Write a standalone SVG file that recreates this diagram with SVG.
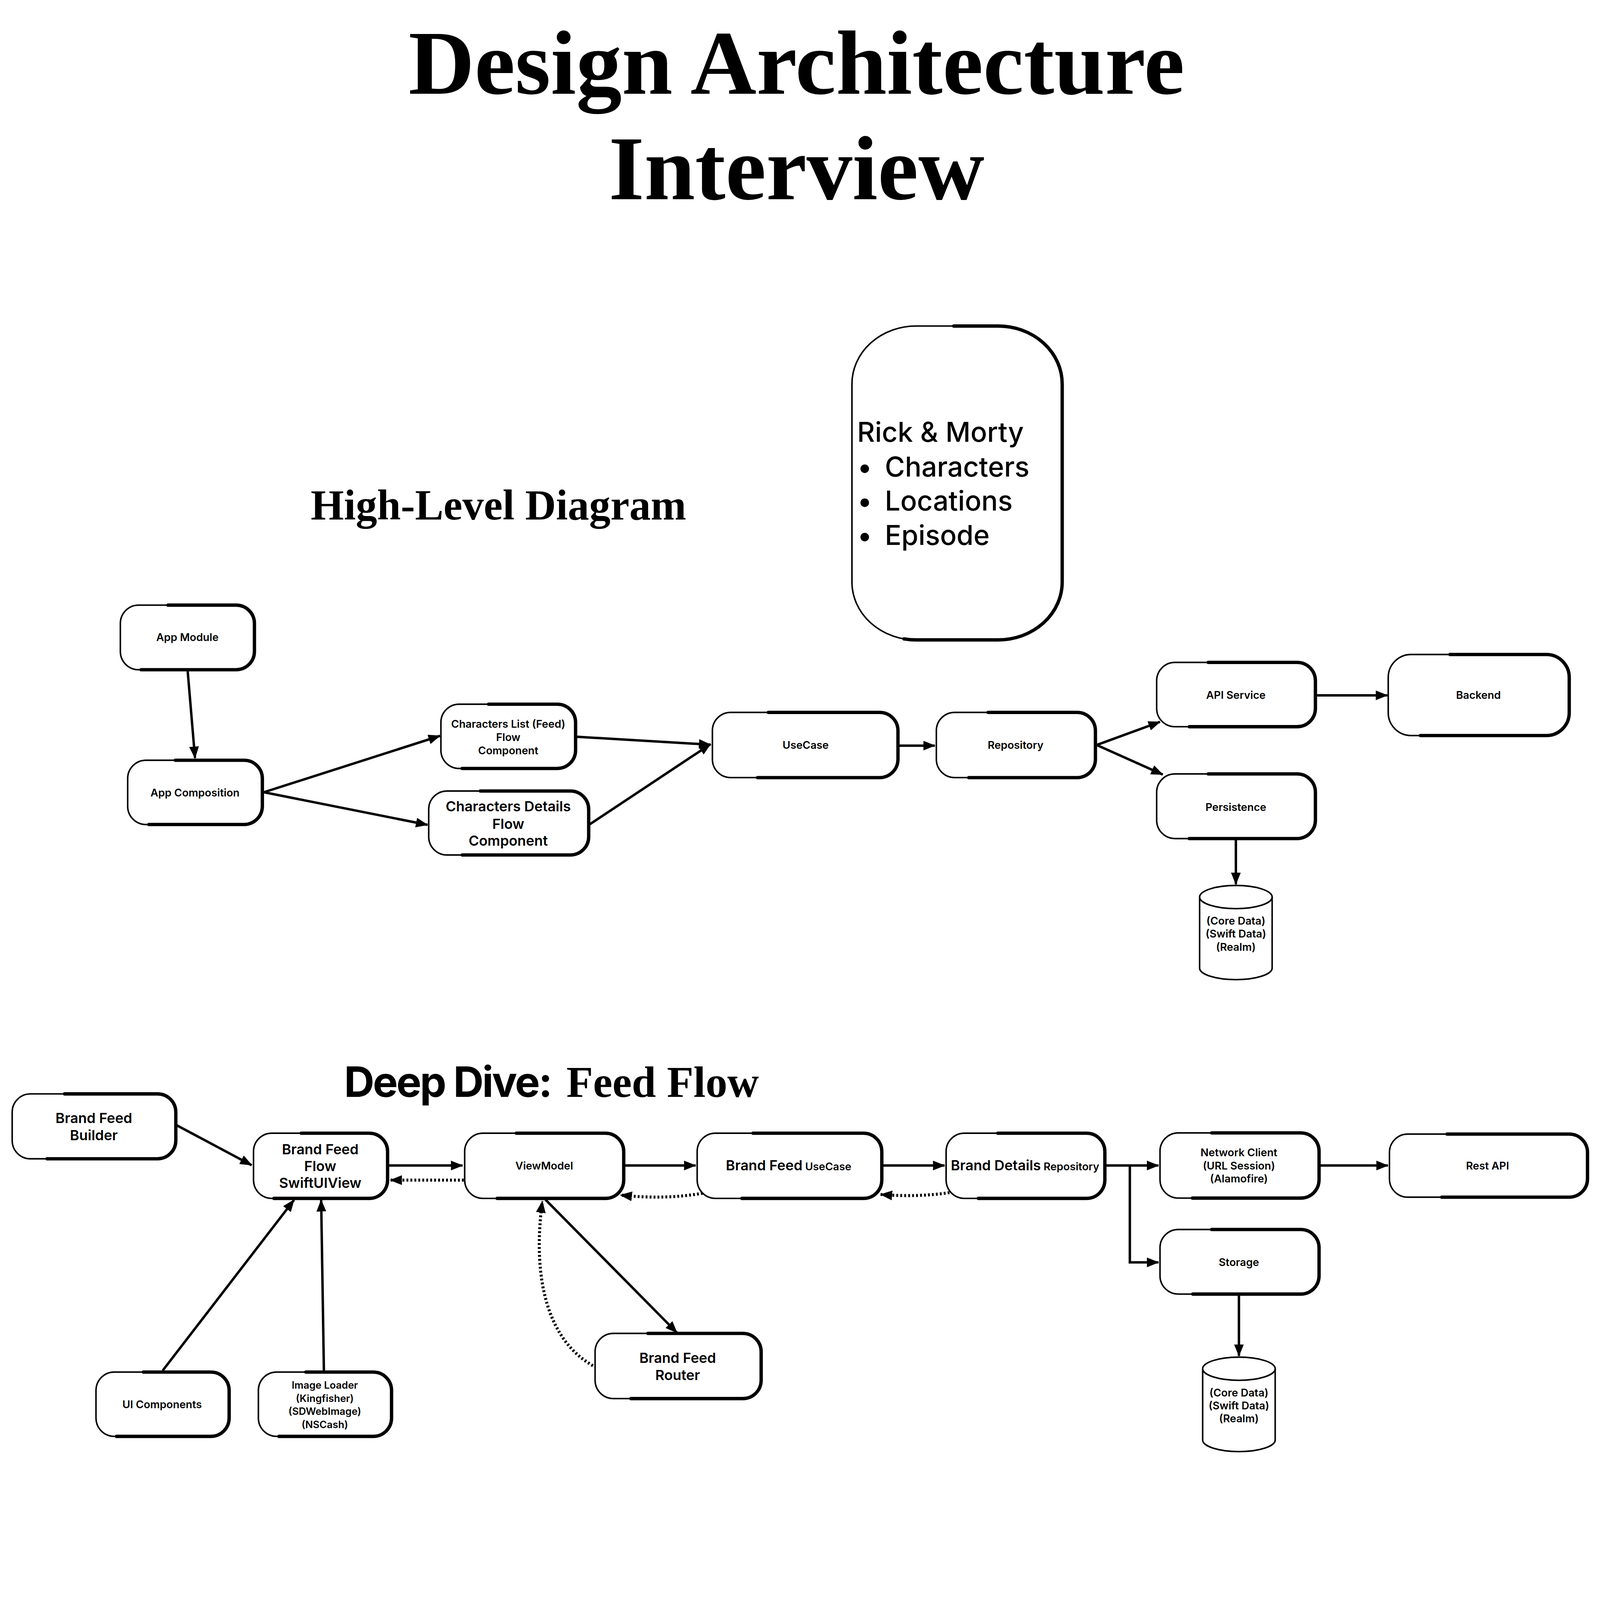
<svg xmlns="http://www.w3.org/2000/svg" width="5251" height="4806" viewBox="0 0 5251 4806" preserveAspectRatio="xMinYMin meet">
<style>
svg{max-width:100vw;max-height:100vh}
.bg{fill:#fff}
.box{fill:#fff;stroke:#000;stroke-width:5}
.rim{fill:none;stroke:#000;stroke-width:11;stroke-linecap:round;stroke-dasharray:68 32;stroke-dashoffset:-8}
.rimr{fill:none;stroke:#000;stroke-width:11;stroke-linecap:round;stroke-dasharray:56 44;stroke-dashoffset:-4}
.edge{fill:none;stroke:#000;stroke-width:8}
.dot{stroke-dasharray:6 7;stroke-width:10}
.t{font-family:Inter,"Noto Sans","Liberation Sans",sans-serif;font-weight:600;text-anchor:middle;fill:#000}
.s{font-size:35px}
.m{font-size:46px}
.serif{font-family:"Liberation Serif","Times New Roman",serif;font-weight:bold;fill:#000}
.rm{font-family:Inter,"Noto Sans","Liberation Sans",sans-serif;font-weight:500;font-size:90px;fill:#000}
</style>
<defs>
<marker id="arr" markerUnits="userSpaceOnUse" viewBox="0 0 40 32" markerWidth="40" markerHeight="32" refX="38" refY="16" orient="auto">
<path d="M0,0 L40,16 L0,32 Z" fill="#000"/>
</marker>
</defs>
<rect class="bg" x="0" y="0" width="5251" height="4806"/>

<g id="titles">
<text class="serif" x="2614" y="308" font-size="300" text-anchor="middle">Design Architecture</text>
<text class="serif" x="2614" y="654" font-size="300" text-anchor="middle">Interview</text>
<text class="serif" x="1636" y="1705" font-size="140" text-anchor="middle">High-Level Diagram</text>
<text x="1129" y="3600"><tspan font-family="Inter, 'Noto Sans', 'Liberation Sans', sans-serif" font-weight="700" font-size="138" letter-spacing="-5">Deep Dive:</tspan><tspan x="1859" class="serif" font-size="143">Feed Flow</tspan></text>
</g>

<g id="rick-morty">
<rect class="box" x="2796" y="1070" width="690" height="1030" rx="210" ry="190"/>
<rect class="rimr" x="2796" y="1070" width="690" height="1030" rx="210" ry="190" pathLength="100"/>
<text class="rm" x="2813" y="1450">Rick &amp; Morty</text>
<text class="rm" x="2814" y="1564">•</text><text class="rm" x="2904" y="1564">Characters</text>
<text class="rm" x="2814" y="1676">•</text><text class="rm" x="2904" y="1676">Locations</text>
<text class="rm" x="2814" y="1788">•</text><text class="rm" x="2904" y="1788">Episode</text>
</g>

<g id="connectors">
<path class="edge" d="M616,2203 L640,2488" marker-end="url(#arr)"/>
<path class="edge" d="M866,2600 L1444,2415" marker-end="url(#arr)"/>
<path class="edge" d="M866,2600 L1403,2707" marker-end="url(#arr)"/>
<path class="edge" d="M1893,2418 L2332,2444" marker-end="url(#arr)"/>
<path class="edge" d="M1936,2705 L2332,2442" marker-end="url(#arr)"/>
<path class="edge" d="M2950,2447 L3068,2447" marker-end="url(#arr)"/>
<path class="edge" d="M3599,2445 L3807,2369" marker-end="url(#arr)"/>
<path class="edge" d="M3599,2445 L3816,2542" marker-end="url(#arr)"/>
<path class="edge" d="M4322,2282 L4553,2282" marker-end="url(#arr)"/>
<path class="edge" d="M4056,2755 L4056,2902" marker-end="url(#arr)"/>

<path class="edge" d="M580,3693 L826,3824" marker-end="url(#arr)"/>
<path class="edge" d="M1277,3825 L1518,3825" marker-end="url(#arr)"/>
<path class="edge dot" d="M1522,3873 L1281,3873" marker-end="url(#arr)"/>
<path class="edge" d="M2051,3825 L2283,3825" marker-end="url(#arr)"/>
<path class="edge dot" d="M2306,3916 Q2180,3938 2036,3922" marker-end="url(#arr)"/>
<path class="edge" d="M2899,3825 L3100,3825" marker-end="url(#arr)"/>
<path class="edge dot" d="M3116,3914 Q3010,3930 2890,3920" marker-end="url(#arr)"/>
<path class="edge" d="M3627,3825 L3802,3825" marker-end="url(#arr)"/>
<path class="edge" d="M3708,3825 L3708,4143 L3802,4143" marker-end="url(#arr)"/>
<path class="edge" d="M4331,3825 L4555,3825" marker-end="url(#arr)"/>
<path class="edge" d="M4066,4251 L4066,4450" marker-end="url(#arr)"/>
<path class="edge" d="M534,4498 L965,3938" marker-end="url(#arr)"/>
<path class="edge" d="M1063,4498 L1054,3938" marker-end="url(#arr)"/>
<path class="edge" d="M1790,3937 L2222,4374" marker-end="url(#arr)"/>
<path class="edge dot" d="M1946,4482 C1800,4400 1745,4200 1780,3942" marker-end="url(#arr)"/>
</g>

<g id="app-module"><rect class="box" x="395" y="1986" width="440" height="212" rx="60"/><rect class="rim" x="395" y="1986" width="440" height="212" rx="60" pathLength="100"/>
<text class="t s" x="615" y="2104">App Module</text></g>
<g id="app-composition"><rect class="box" x="419" y="2495" width="442" height="211" rx="60"/><rect class="rim" x="419" y="2495" width="442" height="211" rx="60" pathLength="100"/>
<text class="t s" x="640" y="2614">App Composition</text></g>
<g id="characters-list"><rect class="box" x="1447" y="2311" width="442" height="211" rx="60"/><rect class="rim" x="1447" y="2311" width="442" height="211" rx="60" pathLength="100"/>
<text class="t s" x="1668" y="2388">Characters List (Feed)</text>
<text class="t s" x="1668" y="2432">Flow</text>
<text class="t s" x="1668" y="2476">Component</text></g>
<g id="characters-details"><rect class="box" x="1407" y="2596" width="525" height="210" rx="60"/><rect class="rim" x="1407" y="2596" width="525" height="210" rx="60" pathLength="100"/>
<text class="t m" x="1668" y="2663">Characters Details</text>
<text class="t m" x="1668" y="2720">Flow</text>
<text class="t m" x="1668" y="2776">Component</text></g>
<g id="usecase"><rect class="box" x="2338" y="2338" width="609" height="214" rx="60"/><rect class="rim" x="2338" y="2338" width="609" height="214" rx="60" pathLength="100"/>
<text class="t s" x="2644" y="2457">UseCase</text></g>
<g id="repository"><rect class="box" x="3073" y="2338" width="522" height="214" rx="60"/><rect class="rim" x="3073" y="2338" width="522" height="214" rx="60" pathLength="100"/>
<text class="t s" x="3333" y="2457">Repository</text></g>
<g id="api-service"><rect class="box" x="3796" y="2174" width="521" height="211" rx="60"/><rect class="rim" x="3796" y="2174" width="521" height="211" rx="60" pathLength="100"/>
<text class="t s" x="4056" y="2294">API Service</text></g>
<g id="backend"><rect class="box" x="4556" y="2148" width="594" height="266" rx="75"/><rect class="rim" x="4556" y="2148" width="594" height="266" rx="75" pathLength="100"/>
<text class="t s" x="4852" y="2294">Backend</text></g>
<g id="persistence"><rect class="box" x="3796" y="2540" width="521" height="212" rx="60"/><rect class="rim" x="3796" y="2540" width="521" height="212" rx="60" pathLength="100"/>
<text class="t s" x="4056" y="2661">Persistence</text></g>
<g id="database-1">
<path class="box" d="M3937,2944 L3937,3177 A119,38 0 0 0 4175,3177 L4175,2944" stroke-width="9"/>
<ellipse class="box" cx="4056" cy="2944" rx="119" ry="38" stroke-width="9"/>
<text class="t s" x="4056" y="3034">(Core Data)</text>
<text class="t s" x="4056" y="3077">(Swift Data)</text>
<text class="t s" x="4056" y="3120">(Realm)</text></g>

<g id="brand-feed-builder"><rect class="box" x="40" y="3590" width="537" height="213" rx="60"/><rect class="rim" x="40" y="3590" width="537" height="213" rx="60" pathLength="100"/>
<text class="t m" x="308" y="3686">Brand Feed</text>
<text class="t m" x="308" y="3742">Builder</text></g>
<g id="brand-feed-swiftuiview"><rect class="box" x="832" y="3719" width="440" height="214" rx="60"/><rect class="rim" x="832" y="3719" width="440" height="214" rx="60" pathLength="100"/>
<text class="t m" x="1051" y="3788">Brand Feed</text>
<text class="t m" x="1051" y="3844">Flow</text>
<text class="t m" x="1051" y="3899">SwiftUIView</text></g>
<g id="viewmodel"><rect class="box" x="1525" y="3719" width="522" height="214" rx="60"/><rect class="rim" x="1525" y="3719" width="522" height="214" rx="60" pathLength="100"/>
<text class="t s" x="1786" y="3838">ViewModel</text></g>
<g id="brand-feed-usecase"><rect class="box" x="2288" y="3719" width="606" height="214" rx="60"/><rect class="rim" x="2288" y="3719" width="606" height="214" rx="60" pathLength="100"/>
<text class="t" x="2588" y="3841"><tspan class="m">Brand Feed</tspan><tspan class="s"> UseCase</tspan></text></g>
<g id="brand-details-repository"><rect class="box" x="3105" y="3719" width="521" height="214" rx="60"/><rect class="rim" x="3105" y="3719" width="521" height="214" rx="60" pathLength="100"/>
<text class="t" x="3364" y="3841"><tspan class="m">Brand Details</tspan><tspan class="s"> Repository</tspan></text></g>
<g id="network-client"><rect class="box" x="3807" y="3718" width="522" height="214" rx="60"/><rect class="rim" x="3807" y="3718" width="522" height="214" rx="60" pathLength="100"/>
<text class="t s" x="4066" y="3795">Network Client</text>
<text class="t s" x="4066" y="3838">(URL Session)</text>
<text class="t s" x="4066" y="3881">(Alamofire)</text></g>
<g id="rest-api"><rect class="box" x="4560" y="3722" width="650" height="207" rx="60"/><rect class="rim" x="4560" y="3722" width="650" height="207" rx="60" pathLength="100"/>
<text class="t s" x="4882" y="3838">Rest API</text></g>
<g id="storage"><rect class="box" x="3807" y="4035" width="522" height="212" rx="60"/><rect class="rim" x="3807" y="4035" width="522" height="212" rx="60" pathLength="100"/>
<text class="t s" x="4066" y="4155">Storage</text></g>
<g id="database-2">
<path class="box" d="M3947,4492 L3947,4726 A119,38 0 0 0 4185,4726 L4185,4492" stroke-width="9"/>
<ellipse class="box" cx="4066" cy="4492" rx="119" ry="38" stroke-width="9"/>
<text class="t s" x="4066" y="4583">(Core Data)</text>
<text class="t s" x="4066" y="4626">(Swift Data)</text>
<text class="t s" x="4066" y="4668">(Realm)</text></g>
<g id="brand-feed-router"><rect class="box" x="1953" y="4376" width="545" height="214" rx="60"/><rect class="rim" x="1953" y="4376" width="545" height="214" rx="60" pathLength="100"/>
<text class="t m" x="2224" y="4473">Brand Feed</text>
<text class="t m" x="2224" y="4529">Router</text></g>
<g id="ui-components"><rect class="box" x="315" y="4503" width="437" height="211" rx="60"/><rect class="rim" x="315" y="4503" width="437" height="211" rx="60" pathLength="100"/>
<text class="t s" x="532" y="4621">UI Components</text></g>
<g id="image-loader"><rect class="box" x="848" y="4503" width="437" height="211" rx="60"/><rect class="rim" x="848" y="4503" width="437" height="211" rx="60" pathLength="100"/>
<text class="t" font-size="33" x="1066" y="4558">Image Loader</text>
<text class="t" font-size="33" x="1066" y="4601">(Kingfisher)</text>
<text class="t" font-size="33" x="1066" y="4644">(SDWebImage)</text>
<text class="t" font-size="33" x="1066" y="4687">(NSCash)</text></g>
</svg>
